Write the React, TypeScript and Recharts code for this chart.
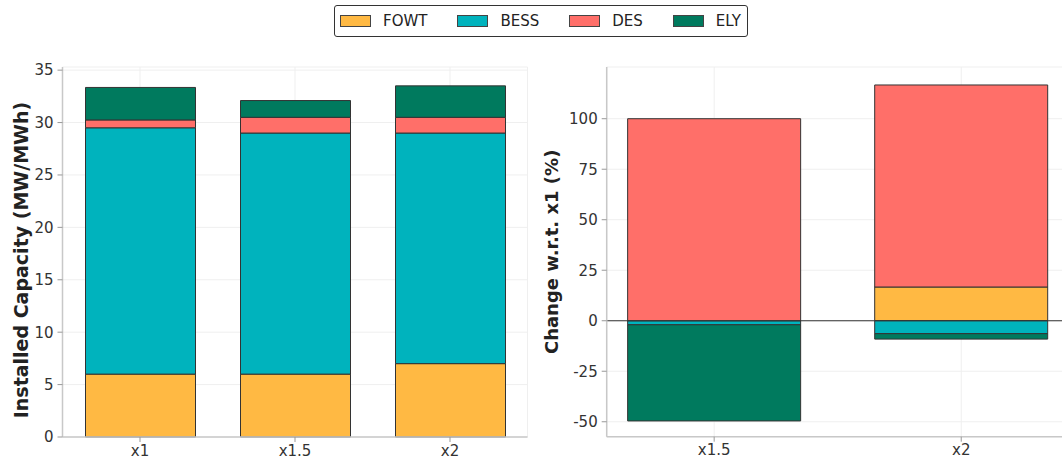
import { BarChart, Bar, XAxis, YAxis, CartesianGrid, ReferenceLine } from 'recharts';

// installed capacity per scenario (MW / MWh)
const scenarios = ['x1', 'x1.5', 'x2'];
const fowt = [6, 6, 7];
const bess = [23.5, 23, 22];
const des = [0.75, 1.5, 1.5];
const ely = [3.1, 1.6, 3.0];

// change relative to x1 (%)
const changeScenarios = ['x1.5', 'x2'];
const fowtChange = [0, 16.7];
const bessChange = [-2.0, -6.4];
const desChange = [100, 100];
const elyChange = [-47.6, -2.7];

const capTicks = [0, 5, 10, 15, 20, 25, 30, 35];
const changeTicks = [-50, -25, 0, 25, 50, 75, 100];

const series = [
  { key: 'FOWT', color: '#ffb943' },
  { key: 'BESS', color: '#00b3bd' },
  { key: 'DES', color: '#ff6f69' },
  { key: 'ELY', color: '#007a5e' },
];

const capData = scenarios.map((name, i) => ({
  name,
  FOWT: fowt[i],
  BESS: bess[i],
  DES: des[i],
  ELY: ely[i],
}));

const changeData = changeScenarios.map((name, i) => ({
  x: i,
  name,
  FOWT: fowtChange[i],
  BESS: bessChange[i],
  DES: desChange[i],
  ELY: elyChange[i],
}));

const FONT = "'DejaVu Sans', sans-serif";
const tickStyle = { fill: '#333', fontSize: 15, fontFamily: FONT };
const axisLine = { stroke: '#c8c8c8', strokeWidth: 1.5 };
const tickLine = { stroke: '#999' };

const axisTitle = (text: string, dx: number, dy: number, size: number) => (props: any) => {
  const vb = props.viewBox || {};
  const cx = (vb.x || 0) + dx;
  const cy = (vb.y || 0) + (vb.height || 0) / 2 + dy;
  return (
    <text
      x={cx}
      y={cy}
      transform={`rotate(-90 ${cx} ${cy})`}
      textAnchor="middle"
      dominantBaseline="central"
      fontFamily={FONT}
      fontSize={size}
      fontWeight="bold"
      fill="#222"
    >
      {text}
    </text>
  );
};

function LegendBox() {
  return (
    <div
      style={{
        position: 'absolute',
        left: 334,
        top: 5,
        width: 407,
        height: 30,
        border: '1px solid #333',
        borderRadius: 3,
        display: 'flex',
        alignItems: 'center',
        paddingLeft: 5,
        boxSizing: 'content-box',
        fontFamily: FONT,
        fontSize: 15,
        color: '#222',
      }}
    >
      {series.map((s, i) => (
        <div key={s.key} style={{ display: 'flex', alignItems: 'center', marginLeft: i === 0 ? 0 : 30 }}>
          <div
            style={{
              width: 29,
              height: 10,
              background: s.color,
              border: '1px solid #444',
              marginRight: 12,
            }}
          />
          <span>{s.key}</span>
        </div>
      ))}
    </div>
  );
}

export default function App() {
  return (
    <div
      style={{
        position: 'absolute',
        left: 0,
        top: 0,
        width: 1062,
        height: 465,
        overflow: 'hidden',
        background: '#fff',
      }}
    >
      <LegendBox />
      <div style={{ position: 'absolute', left: 0, top: 0 }}>
        <BarChart width={540} height={465} data={capData} margin={{ top: 67, right: 12.5, bottom: 0, left: 0 }}>
          <CartesianGrid stroke="#efefef" />
          <XAxis
            dataKey="name"
            height={28}
            tick={tickStyle}
            tickSize={5}
            tickMargin={3}
            axisLine={axisLine}
            tickLine={tickLine}
          />
          <YAxis
            width={62.5}
            domain={[0, 35.3]}
            ticks={capTicks}
            tick={tickStyle}
            tickSize={5}
            tickMargin={4}
            axisLine={axisLine}
            tickLine={tickLine}
            label={axisTitle('Installed Capacity (MW/MWh)', 21, 8, 19)}
          />
          {series.map((s) => (
            <Bar
              key={s.key}
              dataKey={s.key}
              stackId="a"
              fill={s.color}
              stroke="#333"
              strokeWidth={1}
              barSize={110}
              isAnimationActive={false}
            />
          ))}
        </BarChart>
      </div>
      <div style={{ position: 'absolute', left: 540, top: 0 }}>
        <BarChart
          width={540}
          height={465}
          data={changeData}
          stackOffset="sign"
          margin={{ top: 67, right: 11.3, bottom: 0, left: 0 }}
        >
          <CartesianGrid stroke="#efefef" />
          <XAxis
            type="number"
            dataKey="x"
            domain={[-0.435, 1.435]}
            ticks={[0, 1]}
            tickFormatter={(v: number) => changeScenarios[v] ?? ''}
            allowDataOverflow
            height={28.3}
            tick={tickStyle}
            tickSize={5}
            tickMargin={3}
            axisLine={axisLine}
            tickLine={tickLine}
          />
          <YAxis
            width={66.7}
            domain={[-57.4, 125.6]}
            ticks={changeTicks}
            allowDataOverflow
            tick={tickStyle}
            tickSize={5}
            tickMargin={4}
            axisLine={axisLine}
            tickLine={tickLine}
            label={axisTitle('Change w.r.t. x1 (%)', 12, 0, 18)}
          />
          {series.map((s) => (
            <Bar
              key={s.key}
              dataKey={s.key}
              stackId="b"
              fill={s.color}
              stroke="#333"
              strokeWidth={1}
              barSize={173}
              isAnimationActive={false}
            />
          ))}
          <ReferenceLine y={0} stroke="#333" strokeWidth={1.2} />
        </BarChart>
      </div>
    </div>
  );
}
